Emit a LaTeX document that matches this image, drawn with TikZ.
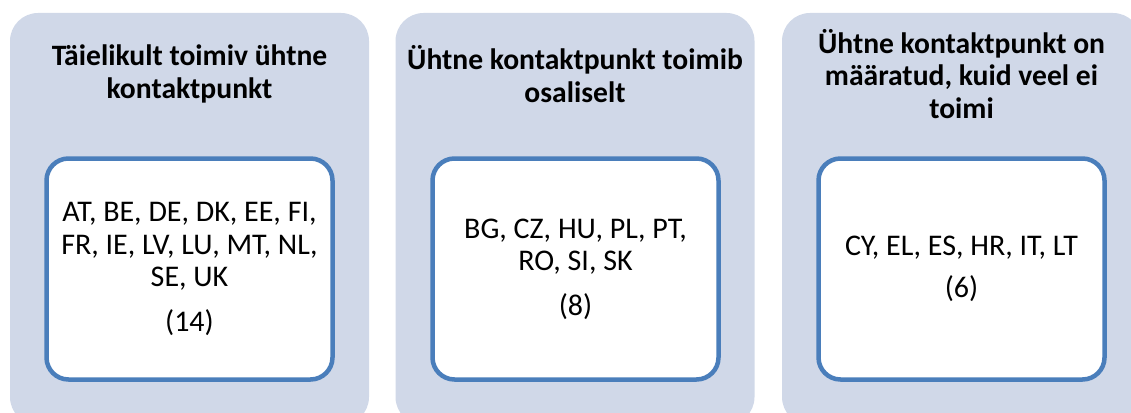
\documentclass[tikz,border=0pt]{standalone}
\usepackage{fontspec}
\setmainfont{Carlito}
\definecolor{panelfill}{RGB}{208,216,232}
\definecolor{boxline}{RGB}{74,126,187}
\begin{document}
\begin{tikzpicture}[x=1pt,y=-1pt,
  panel/.style={rectangle, rounded corners=28pt, fill=panelfill, draw=none,
    minimum width=359pt, minimum height=412pt, inner sep=0pt},
  title/.style={align=center, font=\fontsize{29.6}{32.5}\selectfont\bfseries, inner sep=0pt},
  listbox/.style={rectangle, rounded corners=22pt, fill=white, draw=boxline, line width=4.5pt,
    minimum width=286pt, minimum height=221pt, inner sep=0pt, align=center,
    font=\fontsize{30}{32.5}\selectfont}
]
\useasboundingbox (0,0) rectangle (1131,412);
\begin{scope}
\clip (0,0) rectangle (1131,412);
\node[panel] (p1) at (189.5,219) {};
\node[panel] (p2) at (575,219) {};
\node[panel] (p3) at (961.5,219) {};
\end{scope}
\node[title] (t1) at (189.5,74) {Täielikult toimiv ühtne\\kontaktpunkt};
\node[title] (t2) at (575,74) {Ühtne kontaktpunkt toimib\\osaliselt};
\node[title] (t3) at (961.5,74) {Ühtne kontaktpunkt on\\määratud, kuid veel ei\\toimi};
\node[listbox] (b1) at (189.5,269) {AT, BE, DE, DK, EE, FI,\\FR, IE, LV, LU, MT, NL,\\SE, UK\\[12pt](14)};
\node[listbox] (b2) at (575.5,269) {BG, CZ, HU, PL, PT,\\RO, SI, SK\\[12pt](8)};
\node[listbox] (b3) at (961.5,269) {CY, EL, ES, HR, IT, LT\\[10pt](6)};
\end{tikzpicture}
\end{document}
